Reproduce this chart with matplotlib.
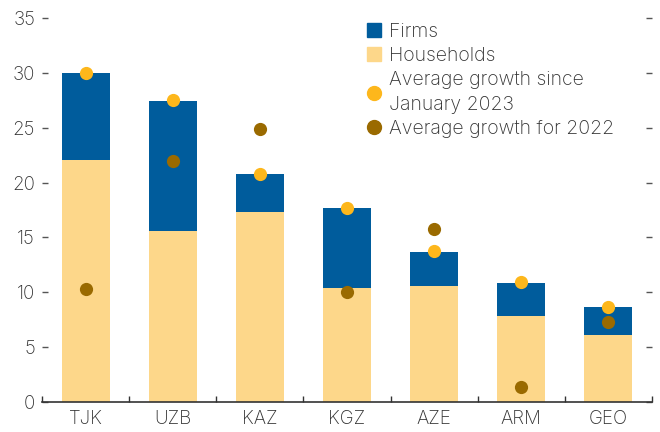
import matplotlib
matplotlib.use("Agg")
import matplotlib.pyplot as plt
from matplotlib.lines import Line2D
import numpy as np

categories = ["TJK", "UZB", "KAZ", "KGZ", "AZE", "ARM", "GEO"]
households = [22.1, 15.6, 17.3, 10.4, 10.6, 7.8, 6.1]
firms = [7.9, 11.8, 3.5, 7.3, 3.1, 3.05, 2.55]
growth_2023 = [30.0, 27.5, 20.8, 17.7, 13.8, 10.9, 8.7]
growth_2022 = [10.3, 22.0, 24.9, 10.0, 15.8, 1.4, 7.3]
yticks = [0, 5, 10, 15, 20, 25, 30, 35]

C_FIRMS = "#005C9C"
C_HH = "#FDD78A"
C_Y = "#FDB71C"
C_B = "#9A6A00"
TXT = "#333333"

plt.rcParams['font.family'] = ['Inter', 'DejaVu Sans']

fig = plt.figure(figsize=(6.6, 4.32), dpi=100)
ax = fig.add_axes([42/660, 1-402/432, 610/660, 384/432])

x = np.arange(len(categories))
w = 0.55
ax.bar(x, households, width=w, color=C_HH, zorder=2)
ax.bar(x, firms, bottom=households, width=w, color=C_FIRMS, zorder=2)
ax.plot(x, growth_2023, 'o', color=C_Y, markersize=9.5, markeredgewidth=0, zorder=3)
ax.plot(x, growth_2022, 'o', color=C_B, markersize=9.5, markeredgewidth=0, zorder=4)

ax.set_xlim(-0.5, len(categories) - 0.5)
ax.set_ylim(0, 35)
ax.set_yticks(yticks)
ax.set_xticks(x)
ax.set_xticklabels(categories)
ax.set_xticks(np.arange(-0.5, len(categories), 1.0), minor=True)

for s in ["top", "left", "right"]:
    ax.spines[s].set_visible(False)
ax.spines["bottom"].set_color("#333333")
ax.spines["bottom"].set_linewidth(1.2)

ax.tick_params(axis='y', direction='in', length=4.5, width=1, color="#555555",
               left=True, right=True, labelleft=True, labelright=False,
               labelsize=13.5, labelcolor=TXT, pad=5)
ax.tick_params(axis='x', which='major', length=0, labelsize=13.5, labelcolor=TXT, pad=6)
ax.tick_params(axis='x', which='minor', direction='in', length=4.5, width=1, color="#333333")
for lab in ax.get_xticklabels() + ax.get_yticklabels():
    lab.set_fontweight('light')

handles = [
    Line2D([], [], marker='s', linestyle='none', color=C_FIRMS, markersize=10),
    Line2D([], [], marker='s', linestyle='none', color=C_HH, markersize=10),
    Line2D([], [], marker='o', linestyle='none', color=C_Y, markersize=10),
    Line2D([], [], marker='o', linestyle='none', color=C_B, markersize=10),
]
labels = ["Firms", "Households", "Average growth since\nJanuary 2023", "Average growth for 2022"]
leg = ax.legend(handles, labels, loc='upper left', bbox_to_anchor=(367/660, 1-23/432),
                bbox_transform=fig.transFigure, frameon=False, fontsize=14,
                handlelength=0.7, handletextpad=0.45, labelspacing=0.32,
                borderaxespad=0, borderpad=0)
for t in leg.get_texts():
    t.set_color(TXT)
    t.set_fontweight('light')
    t.set_linespacing(1.45)

fig.savefig("out.png", dpi=100)
